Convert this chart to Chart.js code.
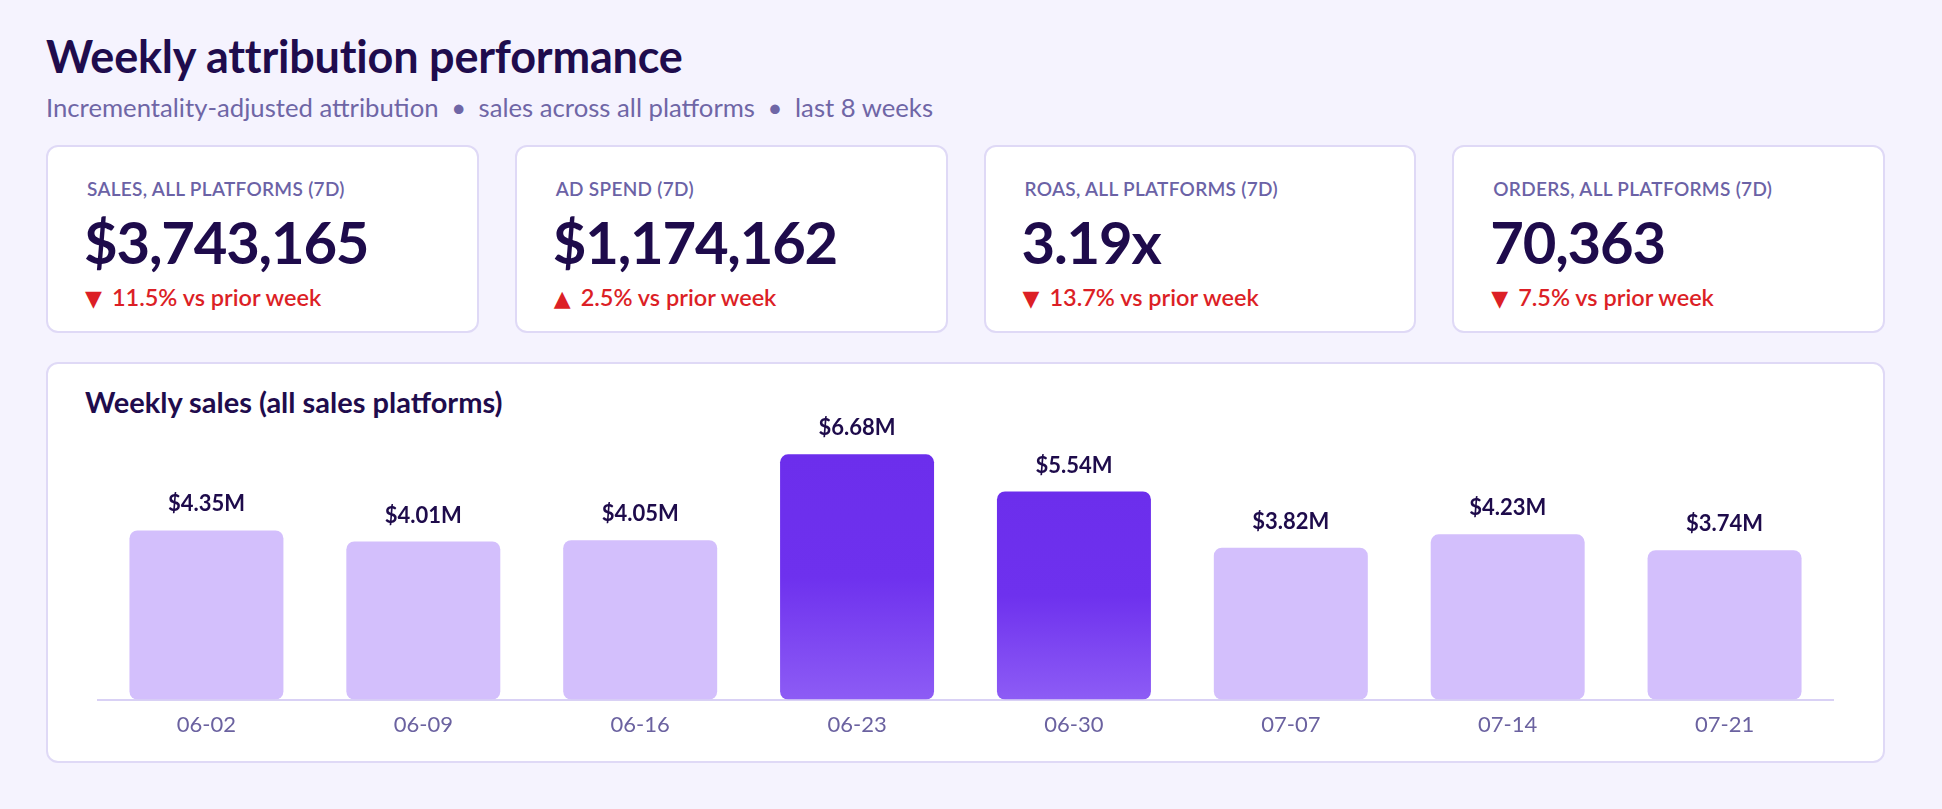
<!DOCTYPE html>
<html lang="en">
<head>
    <meta charset="UTF-8">
    <title>Weekly attribution performance</title>
    <script src="https://cdn.jsdelivr.net/npm/chart.js"></script>
    <style>
        * { box-sizing: border-box; }
        html, body { margin: 0; padding: 0; }
        body {
            background: #F5F3FE;
            font-family: Lato, "Noto Sans", sans-serif;
            width: 1942px;
            height: 809px;
            overflow: hidden;
        }
        .page { padding: 29px 57px 0 46px; }
        h1 {
            margin: 0;
            font-size: 45px;
            line-height: 54px;
            font-weight: 700;
            color: #1F0C4D;
            letter-spacing: -0.2px;
        }
        .sub {
            margin: 9px 0 0;
            font-size: 25.7px;
            line-height: 30px;
            color: #6F66A6;
        }
        .sub .dot { margin: 0 6px; }
        .kpis {
            margin-top: 23px;
            display: grid;
            grid-template-columns: repeat(4, 1fr);
            gap: 36px;
        }
        .card {
            position: relative;
            height: 188px;
            background: #fff;
            border: 2px solid #DFD9F6;
            border-radius: 12px;
        }
        .card .label {
            position: absolute; left: 39px; top: 31px;
            font-size: 19px; line-height: 1.2; font-weight: 600;
            color: #6B62A6; letter-spacing: 0.3px;
        }
        .card .value {
            position: absolute; left: 36px; top: 60px;
            font-size: 58px; line-height: 1.2; font-weight: 700;
            color: #1E0B4B; letter-spacing: -1.2px;
        }
        .card .delta {
            position: absolute; left: 37px; top: 136px;
            font-size: 23.5px; line-height: 1.2; font-weight: 600;
            color: #DC1F26;
        }
        .delta .tri { font-family: "DejaVu Sans"; font-size: 22px; margin-right: 10px; }
        .chart-card {
            position: relative;
            margin-top: 29px;
            height: 401px;
            background: #fff;
            border: 2px solid #DFD9F6;
            border-radius: 12px;
        }
        .chart-card h2 {
            position: absolute; left: 37px; top: 21px; margin: 0;
            font-size: 29px; line-height: 1.2; font-weight: 700;
            color: #1F0C4D;
        }
        .chart-wrap {
            position: absolute; left: 0; right: 0; top: 45px; height: 350px;
        }
    </style>
</head>
<body>
<div class="page">
    <h1>Weekly attribution performance</h1>
    <p class="sub">Incrementality-adjusted attribution <span class="dot">•</span> sales across all platforms <span class="dot">•</span> last 8 weeks</p>

    <!-- KPI cards -->
    <div class="kpis">
        <div class="card">
            <div class="label">SALES, ALL PLATFORMS (7D)</div>
            <div class="value">$3,743,165</div>
            <div class="delta"><span class="tri">▼</span>11.5% vs prior week</div>
        </div>
        <div class="card">
            <div class="label">AD SPEND (7D)</div>
            <div class="value">$1,174,162</div>
            <div class="delta"><span class="tri">▲</span>2.5% vs prior week</div>
        </div>
        <div class="card">
            <div class="label">ROAS, ALL PLATFORMS (7D)</div>
            <div class="value">3.19x</div>
            <div class="delta"><span class="tri">▼</span>13.7% vs prior week</div>
        </div>
        <div class="card">
            <div class="label">ORDERS, ALL PLATFORMS (7D)</div>
            <div class="value">70,363</div>
            <div class="delta"><span class="tri">▼</span>7.5% vs prior week</div>
        </div>
    </div>

    <!-- weekly sales chart -->
    <div class="chart-card">
        <h2>Weekly sales (all sales platforms)</h2>
        <div class="chart-wrap"><canvas id="salesChart"></canvas></div>
    </div>
</div>

<script>
    const weeks = ['06-02', '06-09', '06-16', '06-23', '06-30', '07-07', '07-14', '07-21'];
    const weeklySales = [4350000, 4010000, 4050000, 6680000, 5540000, 3820000, 4230000, 3743165];
    const highlightWeeks = ['06-23', '06-30'];
    const yMin = -830000;
    const yMax = 7500000;

    const formatM = v => '$' + (v / 1e6).toFixed(2) + 'M';

    // highlighted bars get a vertical gradient
    function barColor(ctx) {
        if (!highlightWeeks.includes(weeks[ctx.dataIndex])) return '#D3BFFC';
        const chart = ctx.chart;
        if (!chart.chartArea) return '#6E30EE';
        const y = chart.scales.y;
        const top = y.getPixelForValue(weeklySales[ctx.dataIndex]);
        const bottom = y.getPixelForValue(yMin);
        const g = chart.ctx.createLinearGradient(0, top, 0, bottom);
        g.addColorStop(0, '#6C2EEC');
        g.addColorStop(0.5, '#6E31EE');
        g.addColorStop(1, '#8D5CF5');
        return g;
    }

    const valueLabels = {
        id: 'valueLabels',
        afterDatasetsDraw(chart) {
            const ctx = chart.ctx;
            const meta = chart.getDatasetMeta(0);
            ctx.save();
            ctx.font = '700 22px Lato';
            ctx.fillStyle = '#1E0B4B';
            ctx.textAlign = 'center';
            ctx.textBaseline = 'middle';
            meta.data.forEach((bar, i) => {
                ctx.fillText(formatM(weeklySales[i]), bar.x, bar.y - 26);
            });
            ctx.restore();
        }
    };

    new Chart(document.getElementById('salesChart'), {
        type: 'bar',
        data: {
            labels: weeks,
            datasets: [{
                label: 'Weekly sales',
                data: weeklySales,
                base: yMin,
                backgroundColor: barColor,
                borderRadius: 8,
                borderSkipped: false,
                barPercentage: 0.71,
                categoryPercentage: 1.0
            }]
        },
        options: {
            responsive: true,
            maintainAspectRatio: false,
            animation: false,
            layout: { padding: { top: 18.5, left: 50, right: 50, bottom: 9 } },
            plugins: {
                legend: { display: false },
                tooltip: { enabled: false }
            },
            scales: {
                x: {
                    grid: { display: false, drawTicks: false },
                    border: { display: true, color: '#D9D1F5', width: 2 },
                    ticks: {
                        color: '#6B62A0',
                        padding: 12,
                        font: { family: 'Lato', size: 22 }
                    }
                },
                y: {
                    display: false,
                    min: yMin,
                    max: yMax
                }
            }
        },
        plugins: [valueLabels]
    });
</script>
</body>
</html>
